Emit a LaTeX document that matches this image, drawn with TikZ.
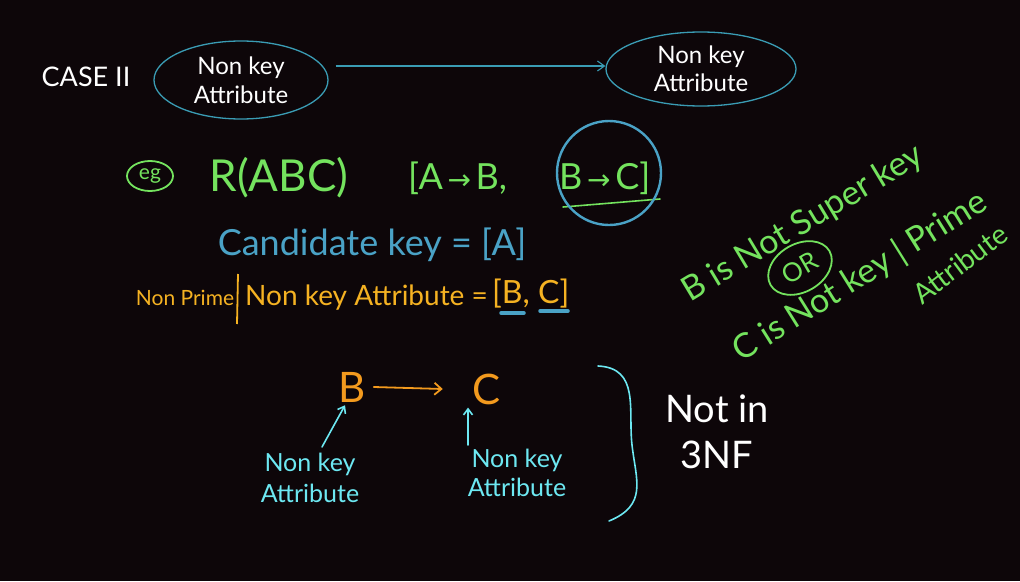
\documentclass[tikz,border=0pt]{standalone}
\usepackage{fontspec}
\setmainfont{Lato}
\newfontfamily\arrfont{DejaVu Sans}
\usetikzlibrary{arrows.meta,shapes.geometric}
\definecolor{bg}{HTML}{0D0609}
\definecolor{ell}{HTML}{3A9CB4}
\definecolor{grn}{HTML}{74E35E}
\definecolor{ctl}{HTML}{4AA2C6}
\definecolor{yel}{HTML}{F5B222}
\definecolor{org}{HTML}{F39A1E}
\definecolor{cyn}{HTML}{6DE8F2}
\newcommand\fsz[2]{\fontsize{#1}{#2}\selectfont}
\newcommand\rarr{{\arrfont\fsz{28}{30}\,→\,}}
\begin{document}
\begin{tikzpicture}[x=1pt,y=-1pt,
  txt/.style={inner sep=0pt, align=center},
  oval/.style={ellipse, draw=ell, line width=1.3pt, inner sep=0pt, align=center, text=white},
  link/.style={draw=ell, line width=1.1pt, -{Straight Barb[length=7pt,width=10pt]}},
  gline/.style={draw=grn, line width=1.6pt, line cap=round},
  cyline/.style={draw=cyn, line width=1.6pt, line cap=round},
  oline/.style={draw=org, line width=1.8pt, line cap=round}]
\fill[bg] (0,0) rectangle (1020,581);
\useasboundingbox (0,0) rectangle (1020,581);

% top row
\node[txt, text=white, font=\fsz{27}{30}] (case) at (86,77) {CASE II};
\node[oval, minimum width=174pt, minimum height=78pt, font=\fsz{24}{29}] (e1) at (241,80) {Non key\\Attribute};
\node[oval, minimum width=190pt, minimum height=74pt, font=\fsz{24}{28}] (e2) at (701,69) {Non key\\Attribute};
\draw[link] ([shift={(7pt,14pt)}]e1.east) -- ([yshift=3pt]e2.west);

% example line
\node[ellipse, draw=grn, line width=1.8pt, minimum width=46pt, minimum height=30pt, inner sep=0pt, text=grn, font=\fsz{21}{22}] (eg) at (150,176) {eg};
\node[txt, text=grn, font=\fsz{44}{48}] (rel) at (279,178) {R(ABC)};
\node[txt, text=grn, font=\fsz{36}{40}, anchor=west] (fd1) at (408,178) {[A\rarr B,};
\node[txt, text=grn, font=\fsz{36}{40}, anchor=west] (fd2) at (559,178) {B\rarr C]};
\draw[gline] (563,207) -- (660,199);
\node[circle, draw=ctl, line width=2.4pt, minimum size=104pt] (cir) at (609,173) {};

% candidate key
\node[txt, text=ctl, font=\fsz{36}{40}] (ck) at (372,245) {Candidate key = [A]};

% non prime line
\node[txt, text=yel, font=\fsz{21}{24}] (np) at (185,298) {Non Prime};
\draw[draw=yel, line width=1.8pt] (238,274) -- (237,324);
\node[txt, text=yel, font=\fsz{28}{30}, anchor=west] (nk) at (245,298) {Non key Attribute =};
\node[txt, text=yel, font=\fsz{32}{34}, anchor=west] (bc) at (492,294) {[B, C]};
\draw[draw=ctl, line width=3.5pt, line cap=round] (501,313) -- (524,313);
\draw[draw=ctl, line width=3.5pt, line cap=round] (540,311) -- (568,311);

% right rotated notes
\node[txt, text=grn, rotate=31, font=\fsz{34}{36}] (sk) at (803,224) {B is Not Super key};
\node[ellipse, draw=grn, line width=1.8pt, rotate=30, minimum width=68pt, minimum height=48pt, inner sep=0pt, text=grn, font=\fsz{26}{28}] (or) at (800,268) {OR};
\node[txt, text=grn, rotate=32, font=\fsz{34}{36}] (cp) at (860,277) {C is Not key | Prime};
\node[txt, text=grn, rotate=37, font=\fsz{28}{30}] (atr) at (960,264) {Attribute};

% B -> C
\node[txt, text=org, font=\fsz{42}{44}] (B) at (352,387) {B};
\node[txt, text=org, font=\fsz{42}{44}] (C) at (487,389) {C};
\draw[oline, -{Straight Barb[length=7pt,width=12pt]}] ([xshift=8pt]B.east) -- ([xshift=-30pt]C.west);
\node[txt, text=cyn, font=\fsz{25}{31}] (l1) at (310,478) {Non key\\Attribute};
\node[txt, text=cyn, font=\fsz{25}{29}] (l2) at (517,473) {Non key\\Attribute};
\draw[cyline, -{Straight Barb[length=6pt,width=9pt]}] ([xshift=12pt,yshift=6pt]l1.north) -- ([xshift=-7pt,yshift=-3pt]B.south);
\draw[cyline, -{Straight Barb[length=6pt,width=9pt]}] ([xshift=-49pt,yshift=4pt]l2.north) -- ([xshift=-19pt,yshift=-3pt]C.south);

% brace and verdict
\draw[cyline] (598,366) .. controls (640,368) and (628,410) .. (632,445)
  .. controls (636,480) and (648,505) .. (609,521);
\node[txt, text=white, font=\fsz{38}{46}] (n3) at (717,432) {Not in\\3NF};
\end{tikzpicture}
\end{document}
